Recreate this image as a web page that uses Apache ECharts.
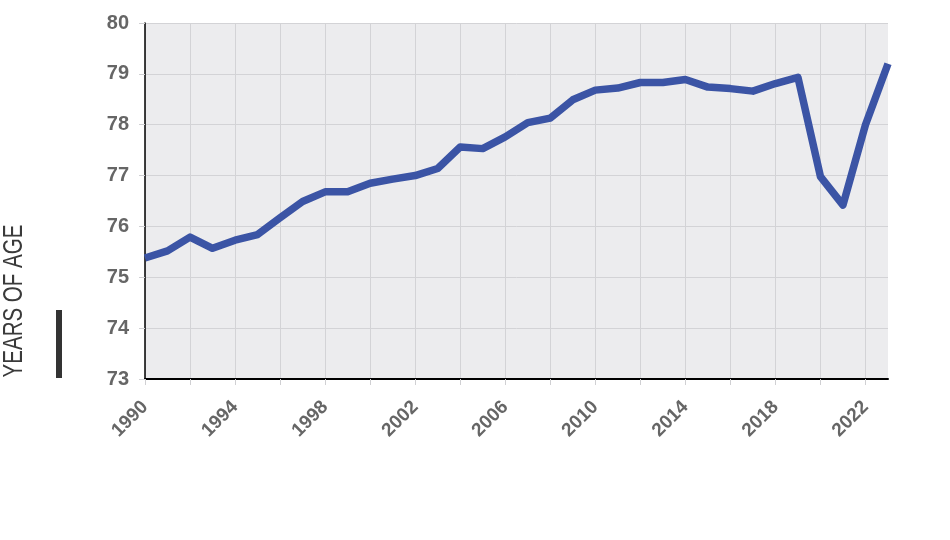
<!DOCTYPE html>
<html>
<head>
<meta charset="utf-8">
<script src="https://cdn.jsdelivr.net/npm/echarts@6/dist/echarts.min.js"></script>
<style>
html, body { margin: 0; padding: 0; background: #ffffff; }
#main { width: 950px; height: 540px; }
</style>
</head>
<body>
<div id="main"></div>
<script>
// 数据
var years = [1990, 1991, 1992, 1993, 1994, 1995, 1996, 1997, 1998, 1999,
	2000, 2001, 2002, 2003, 2004, 2005, 2006, 2007, 2008, 2009,
	2010, 2011, 2012, 2013, 2014, 2015, 2016, 2017, 2018, 2019,
	2020, 2021, 2022, 2023];
var lifeExp = [75.38, 75.52, 75.79, 75.57, 75.73, 75.84, 76.17, 76.49, 76.68, 76.68,
	76.85, 76.93, 77.0, 77.14, 77.56, 77.53, 77.76, 78.04, 78.13, 78.49,
	78.68, 78.72, 78.83, 78.83, 78.89, 78.74, 78.71, 78.66, 78.81, 78.93,
	76.98, 76.42, 78.0, 79.2];
var yTicks = [73, 74, 75, 76, 77, 78, 79, 80];
var axisTitle = 'YEARS OF AGE';

var points = [];
for (var i = 0; i < years.length; i++) {
	points.push([years[i], lifeExp[i]]);
}

var myChart = echarts.init(document.getElementById('main'));
var option = {
	backgroundColor : '#ffffff',
	animation : false,
	grid : {
		left : 145,
		right : 62,
		top : 23,
		bottom : 161,
		show : true,
		backgroundColor : '#ececee',
		borderWidth : 0
	},
	xAxis : {
		type : 'value',
		min : years[0],
		max : years[years.length - 1],
		interval : 2,
		axisLine : {
			lineStyle : { color : '#000', width : 2 }
		},
		axisTick : {
			show : true,
			length : 6,
			lineStyle : { color : '#d0d0d3' }
		},
		splitLine : {
			show : true,
			showMaxLine : false,
			lineStyle : { color : '#d3d3d6', width : 1 }
		},
		axisLabel : {
			rotate : 45,
			margin : 25,
			color : '#666',
			fontFamily : 'Liberation Sans',
			fontWeight : 'bold',
			fontSize : 19,
			showMaxLabel : false,
			formatter : function(v) {
				return (v - years[0]) % 4 === 0 ? String(v) : '';
			}
		}
	},
	yAxis : {
		type : 'value',
		min : yTicks[0],
		max : yTicks[yTicks.length - 1],
		interval : 1,
		axisLine : {
			show : true,
			lineStyle : { color : '#000', width : 1.5 }
		},
		axisTick : {
			show : true,
			length : 6,
			lineStyle : { color : '#d0d0d3' }
		},
		splitLine : {
			lineStyle : { color : '#d3d3d6', width : 1 }
		},
		axisLabel : {
			margin : 16,
			color : '#666',
			fontFamily : 'Liberation Sans',
			fontWeight : 'bold',
			fontSize : 20
		}
	},
	graphic : [ {
		type : 'text',
		x : 15,
		y : 301,
		rotation : Math.PI / 2,
		scaleX : 0.76,
		style : {
			text : axisTitle,
			fill : '#3a3a3a',
			font : '27px "Liberation Sans"',
			textAlign : 'center',
			textVerticalAlign : 'middle'
		}
	}, {
		type : 'rect',
		shape : { x : 56, y : 310, width : 6, height : 68 },
		style : { fill : '#333' }
	} ],
	series : [ {
		type : 'line',
		data : points,
		symbol : 'none',
		smooth : false,
		clip : true,
		lineStyle : {
			color : '#3b54a5',
			width : 7.5,
			join : 'round',
			cap : 'butt'
		}
	} ]
};
myChart.setOption(option);
</script>
</body>
</html>
